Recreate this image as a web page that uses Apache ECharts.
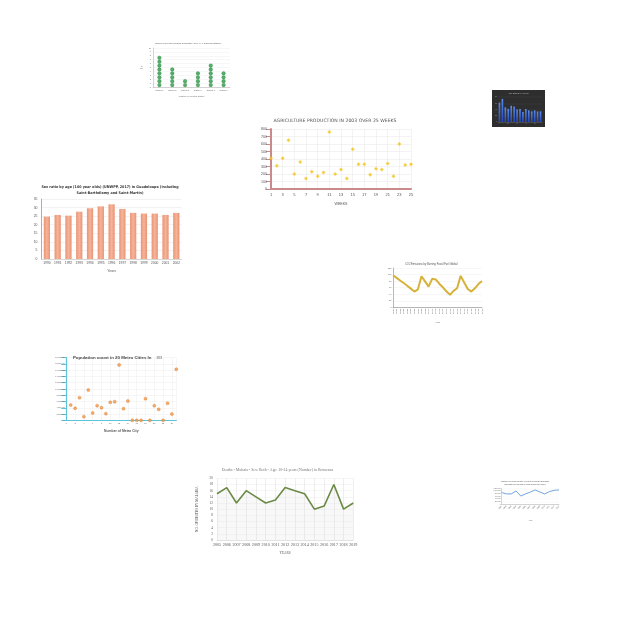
<!DOCTYPE html>
<html><head><meta charset="utf-8">
<script src="https://cdn.jsdelivr.net/npm/echarts@6/dist/echarts.min.js"></script>
<style>
html,body{margin:0;padding:0;background:#fff;}
#wrap{position:relative;width:640px;height:640px;background:#fff;overflow:hidden;}
.c{position:absolute;}
</style></head><body><div id="wrap"></div>
<script>
// ---- Chart A: dot chart ----
const dotTitle = 'Number of days with Maximum Temperature Above 40 \u00B0C at Selected Stations';
const dotCategories = ['Station 1','Station 2','Station 3','Station 4','Station 5','Station 6'];
const dotCounts = [8, 5, 2, 4, 6, 4];

// ---- Chart B: dark bar chart ----
const darkCategories = ['A','B','C','D','E','F','G','H','I','J','K','L','M','N','O'];
const darkValues = [62, 74, 47, 42, 52, 50, 40, 42, 32, 42, 37, 34, 37, 34, 34];

// ---- Chart C: agriculture production ----
const agriWeeks = [1,2,3,4,5,6,7,8,9,10,11,12,13,14,15,16,17,18,19,20,21,22,23,24,25];
const agriTonnes = [410,310,410,650,200,360,140,230,170,220,760,200,260,140,530,330,330,190,270,260,340,170,600,320,330];

// ---- Chart D: sex ratio ----
const sexYears = ['1990','1991','1992','1993','1994','1995','1996','1997','1998','1999','2000','2001','2002'];
const sexRatio = [24.7, 25.7, 25.3, 27.6, 29.6, 30.7, 31.9, 29.2, 26.9, 26.5, 26.5, 25.7, 26.9];

// ---- Chart E: CO2 ----
const co2Years = ['1990','1991','1992','1993','1994','1995','1996','1997','1998','1999','2000','2001','2002','2003','2004','2005','2006','2007','2008','2009','2010','2011','2012','2013','2014','2015'];
const co2Values = [98,90,82,74,66,57,48,55,95,79,63,87,85,72,61,49,38,50,58,96,76,56,48,58,71,80];

// ---- Chart F: population scatter ----
const cityNumbers = [1,2,3,4,5,6,7,8,9,10,11,12,13,14,15,16,17,18,19,20,21,22,23,24,25];
const cityPopulation = [4890000,3830000,7230000,1170000,9680000,2340000,4680000,4040000,2130000,5740000,5960000,17700000,3720000,6170000,0,0,0,6910000,0,4680000,3510000,0,5430000,2020000,16300000];

// ---- Chart G: malaria deaths ----
const malariaYears = ['2005','2006','2007','2008','2009','2010','2011','2012','2013','2014','2015','2016','2017','2018','2019'];
const malariaDeaths = [15,17,12,16,14,12,13,17,16,15,10,11,18,10,12];

// ---- Chart H: small blue line ----
const blueCategories = ['2001','2002','2003','2004','2005','2006','2007','2008','2009','2010','2011','2012','2013'];
const blueValues = [880000,780000,780000,1000000,620000,780000,920000,1080000,920000,780000,950000,1050000,1080000];

const wrap = document.getElementById('wrap');
function mk(x, y, w, h, opt) {
  const d = document.createElement('div');
  d.className = 'c';
  d.style.cssText = 'left:' + x + 'px;top:' + y + 'px;width:' + w + 'px;height:' + h + 'px';
  wrap.appendChild(d);
  const c = echarts.init(d, null, {renderer: 'canvas'});
  opt.grid.outerBoundsMode = 'none';
  opt.grid.containLabel = false;
  opt.title.padding = 0;
  c.setOption(Object.assign({animation: false, textStyle: {fontFamily: 'Liberation Sans'}}, opt));
}

// A (dots: one scatter point per counted day, stacked above each category)
const dotPoints = [];
dotCounts.forEach((n, i) => { for (let k = 0; k < n; k++) dotPoints.push([dotCategories[i], k + 0.5]); });
mk(140, 38, 96, 62, {
  title: {text: dotTitle, left: 'center', top: 4, textStyle: {fontSize: 1.9, fontWeight: 'normal', color: '#555'}},
  grid: {left: 13, top: 10, right: 6, bottom: 13},
  xAxis: {type: 'category', data: dotCategories, axisLine: {lineStyle: {color: '#aaa', width: 0.5}}, axisTick: {show: false},
    axisLabel: {fontSize: 2.1, color: '#666', margin: 2}, name: 'Location of Weather Station', nameLocation: 'middle', nameGap: 5.5,
    nameTextStyle: {fontSize: 2.1, color: '#666'}},
  yAxis: {type: 'value', min: 0, max: 10, interval: 1, axisLine: {show: true, lineStyle: {color: '#aaa', width: 0.5}},
    axisLabel: {fontSize: 2.1, color: '#666', margin: 2}, splitLine: {lineStyle: {color: '#eee', width: 0.5}},
    name: 'No. of\nDays', nameLocation: 'middle', nameRotate: 0, nameGap: 6, nameTextStyle: {fontSize: 2.1, color: '#666'}},
  series: [{type: 'scatter', symbol: 'circle', symbolSize: 3.7, data: dotPoints,
    itemStyle: {color: '#2a9a44', borderColor: '#1b7431', borderWidth: 0.3}}]
});

// B
mk(492, 90, 53, 37, {
  backgroundColor: '#2e2e2e',
  title: {text: 'Top States by Count', left: 'center', top: 2, textStyle: {fontSize: 2.2, fontWeight: 'normal', color: '#bbb'}},
  grid: {left: 6, top: 7, right: 3, bottom: 5},
  xAxis: {type: 'category', data: darkCategories, axisLine: {lineStyle: {color: '#666', width: 0.5}}, axisTick: {show: false},
    axisLabel: {fontSize: 1.8, color: '#999', margin: 1}},
  yAxis: {type: 'value', min: 0, max: 80, interval: 20, axisLine: {show: false},
    axisLabel: {fontSize: 1.8, color: '#999', margin: 1}, splitLine: {lineStyle: {color: '#444', width: 0.4}}},
  series: [{type: 'bar', data: darkValues, barWidth: '55%',
    itemStyle: {color: new echarts.graphic.LinearGradient(0, 0, 0, 1, [{offset: 0, color: '#5b8cf0'}, {offset: 1, color: '#2447b8'}])}}]
});

// C
mk(250, 110, 170, 95, {
  title: {text: 'AGRICULTURE PRODUCTION IN 2003 OVER 25 WEEKS', left: 'center', top: 8.2,
    textStyle: {fontSize: 4.6, fontWeight: 'normal', color: '#555', fontFamily: 'DejaVu Sans'}},
  grid: {left: 21, top: 19, right: 9, bottom: 16},
  xAxis: {type: 'value', min: 1, max: 25, interval: 2, axisLine: {lineStyle: {color: '#c98a8c', width: 2}}, axisTick: {show: false},
    axisLabel: {fontSize: 4, color: '#555', margin: 4}, splitLine: {show: true, lineStyle: {color: '#e6e6e6', width: 0.5}},
    name: 'WEEKS', nameLocation: 'middle', nameGap: 10, nameTextStyle: {fontSize: 3.6, color: '#555'}},
  yAxis: {type: 'value', min: 0, max: 800, interval: 100, axisLine: {show: true, lineStyle: {color: '#c98a8c', width: 2}},
    axisLabel: {fontSize: 3.6, color: '#555', margin: 4}, splitLine: {lineStyle: {color: '#e6e6e6', width: 0.5}},
    name: 'TONNES', nameLocation: 'middle', nameGap: 12, nameTextStyle: {fontSize: 3.4, color: '#555'}},
  series: [{type: 'scatter', symbol: 'diamond', symbolSize: 4,
    data: agriWeeks.map((w, i) => [w, agriTonnes[i]]), itemStyle: {color: '#f3c418'}}]
});

// D
mk(25, 178, 170, 95, {
  title: {text: 'Sex ratio by age (100 year olds) (UNWPP, 2017) in Guadeloupe (including\nSaint-Barth\u00E9lemy and Saint-Martin)',
    left: 'center', top: 5.5, textStyle: {fontSize: 3.7, lineHeight: 6.4, fontWeight: 'bold', color: '#333',
    fontFamily: "'DejaVu Sans Condensed', 'Liberation Sans Narrow', 'Liberation Sans', sans-serif"}},
  grid: {left: 16.5, top: 21, right: 13.3, bottom: 14},
  xAxis: {type: 'category', data: sexYears, axisLine: {lineStyle: {color: '#bbb', width: 0.5}}, axisTick: {show: false},
    axisLabel: {fontSize: 3.3, color: '#555', margin: 3}, name: 'Years', nameLocation: 'middle', nameGap: 8,
    nameTextStyle: {fontSize: 3.4, color: '#555'}},
  yAxis: {type: 'value', min: 0, max: 35, interval: 5, axisLine: {show: true, lineStyle: {color: '#777', width: 0.6}},
    axisLabel: {fontSize: 3.4, color: '#555', margin: 4}, splitLine: {lineStyle: {color: '#e4e4e4', width: 0.5}},
    name: 'Sex Ratio', nameLocation: 'middle', nameGap: 8, nameTextStyle: {fontSize: 3.4, color: '#555'}},
  series: [{type: 'bar', data: sexRatio, barWidth: '58%',
    itemStyle: {color: new echarts.graphic.LinearGradient(0, 0, 1, 0, [{offset: 0, color: '#ea9374'}, {offset: 0.5, color: '#f5b499'}, {offset: 1, color: '#ea9374'}])}}]
});

// E
mk(383, 258, 110, 65, {
  title: {text: 'CO2 Emissions by Burning Fossil Fuel Global', left: 22, top: 4.4, textStyle: {fontSize: 2.6, fontWeight: 'normal', color: '#555'}},
  grid: {left: 10, top: 10, right: 11, bottom: 15.7},
  xAxis: {type: 'category', data: co2Years, boundaryGap: false, axisLine: {lineStyle: {color: '#888', width: 0.6}}, axisTick: {show: false},
    axisLabel: {fontSize: 2.3, color: '#666', rotate: 90, margin: 1.5, interval: 0}, name: 'Year', nameLocation: 'middle', nameGap: 10,
    nameTextStyle: {fontSize: 2.3, color: '#666'}},
  yAxis: {type: 'value', min: 0, max: 120, interval: 20, axisLine: {show: true, lineStyle: {color: '#888', width: 0.6}},
    axisLabel: {fontSize: 2.3, color: '#666', margin: 1.5}, splitLine: {lineStyle: {color: '#eee', width: 0.5}},
    name: 'Carbon Emission (in Million Tonnes)', nameLocation: 'middle', nameGap: 5, nameTextStyle: {fontSize: 1.9, color: '#666'}},
  series: [{type: 'line', data: co2Values, showSymbol: false, lineStyle: {color: '#d6b23a', width: 2}}]
});

// F
mk(45, 345, 145, 88, {
  title: {text: '{a|Population count in 20 Metro Cities In} {b|2011}', left: 'center', top: 3.8,
    textStyle: {rich: {a: {fontSize: 4.4, fontWeight: 'bold', color: '#444'}, b: {fontSize: 2.6, color: '#777'}}}},
  grid: {left: 21.3, top: 12.7, right: 13.7, bottom: 12.7},
  xAxis: {type: 'value', min: 0, max: 25, interval: 2, axisLine: {lineStyle: {color: '#5bc4dc', width: 1.2}}, axisTick: {show: false},
    axisLabel: {fontSize: 2.2, color: '#666', margin: 2, showMaxLabel: false}, splitLine: {show: true, lineStyle: {color: '#ececec', width: 0.5}},
    name: 'Number of Metro City', nameLocation: 'middle', nameGap: 6.5, nameTextStyle: {fontSize: 3.4, fontWeight: 'bold', color: '#555'}},
  yAxis: {type: 'value', min: 0, max: 20000000, interval: 2000000, axisLine: {show: true, lineStyle: {color: '#5bc4dc', width: 1.2}},
    axisLabel: {fontSize: 1.9, color: '#666', margin: 1.5}, splitLine: {lineStyle: {color: '#ececec', width: 0.5}},
    name: 'Population Count', nameLocation: 'middle', nameGap: 11, nameTextStyle: {fontSize: 3.2, fontWeight: 'bold', color: '#555'}},
  series: [{type: 'scatter', symbol: 'circle', symbolSize: 3,
    data: cityNumbers.map((n, i) => [n, cityPopulation[i]]), itemStyle: {color: '#f29a4c', borderColor: '#d9731f', borderWidth: 0.5}}]
});

// G
mk(190, 455, 175, 105, {
  title: {text: 'Deaths - Malaria - Sex: Both - Age: 10-14 years (Number) in Botswana', left: 'center', top: 13,
    textStyle: {fontSize: 3.9, fontWeight: 'normal', color: '#777', fontFamily: 'Liberation Serif'}},
  grid: {left: 27, top: 23.3, right: 11.7, bottom: 20},
  xAxis: {type: 'category', data: malariaYears, boundaryGap: false, axisLine: {lineStyle: {color: '#ccc', width: 0.5}}, axisTick: {show: false},
    axisLabel: {fontSize: 4.1, color: '#555', margin: 3, interval: 0, fontFamily: 'Liberation Serif'},
    splitLine: {show: true, lineStyle: {color: '#e2e2e2', width: 0.6}},
    name: 'YEARS', nameLocation: 'middle', nameGap: 9, nameTextStyle: {fontSize: 3.4, color: '#555', fontFamily: 'Liberation Serif'}},
  yAxis: {type: 'value', min: 0, max: 20, interval: 2, axisLine: {show: false},
    axisLabel: {fontSize: 3.4, color: '#555', margin: 4, fontFamily: 'Liberation Serif'}, splitLine: {lineStyle: {color: '#ececec', width: 0.5}},
    name: 'NO. OF DEATHS BY MALARIA', nameLocation: 'middle', nameGap: 13, nameTextStyle: {fontSize: 3.3, color: '#555', fontFamily: 'Liberation Serif'}},
  series: [{type: 'line', data: malariaDeaths, showSymbol: false, lineStyle: {color: '#6b8a45', width: 1.6},
    areaStyle: {color: 'rgba(215,215,215,0.25)'}}]
});

// H
mk(485, 470, 80, 65, {
  title: {text: 'Number of Foreign Tourist Arrivals and Foreign Exchange\nEarnings from Tourism in India during 2001-2013', left: 'center', top: 10.5,
    textStyle: {fontSize: 1.9, lineHeight: 2.5, fontWeight: 'normal', color: '#555'}},
  grid: {left: 16.7, top: 18.3, right: 6, bottom: 30.7},
  xAxis: {type: 'category', data: blueCategories, boundaryGap: false, axisLine: {lineStyle: {color: '#aaa', width: 0.5}}, axisTick: {show: false},
    axisLabel: {fontSize: 1.9, color: '#666', rotate: 45, margin: 1.5, interval: 0}, name: 'Year', nameLocation: 'middle', nameGap: 15,
    nameTextStyle: {fontSize: 1.9, color: '#666'}},
  yAxis: {type: 'value', min: 0, max: 1200000, interval: 200000, axisLine: {show: true, lineStyle: {color: '#aaa', width: 0.5}},
    axisLabel: {fontSize: 1.6, color: '#666', margin: 1}, splitLine: {lineStyle: {color: '#eee', width: 0.4}},
    name: 'Arrivals', nameLocation: 'middle', nameGap: 9, nameTextStyle: {fontSize: 1.8, color: '#666'}},
  series: [{type: 'line', data: blueValues, showSymbol: false, lineStyle: {color: '#4f8fd6', width: 0.8}}]
});
</script></body></html>
